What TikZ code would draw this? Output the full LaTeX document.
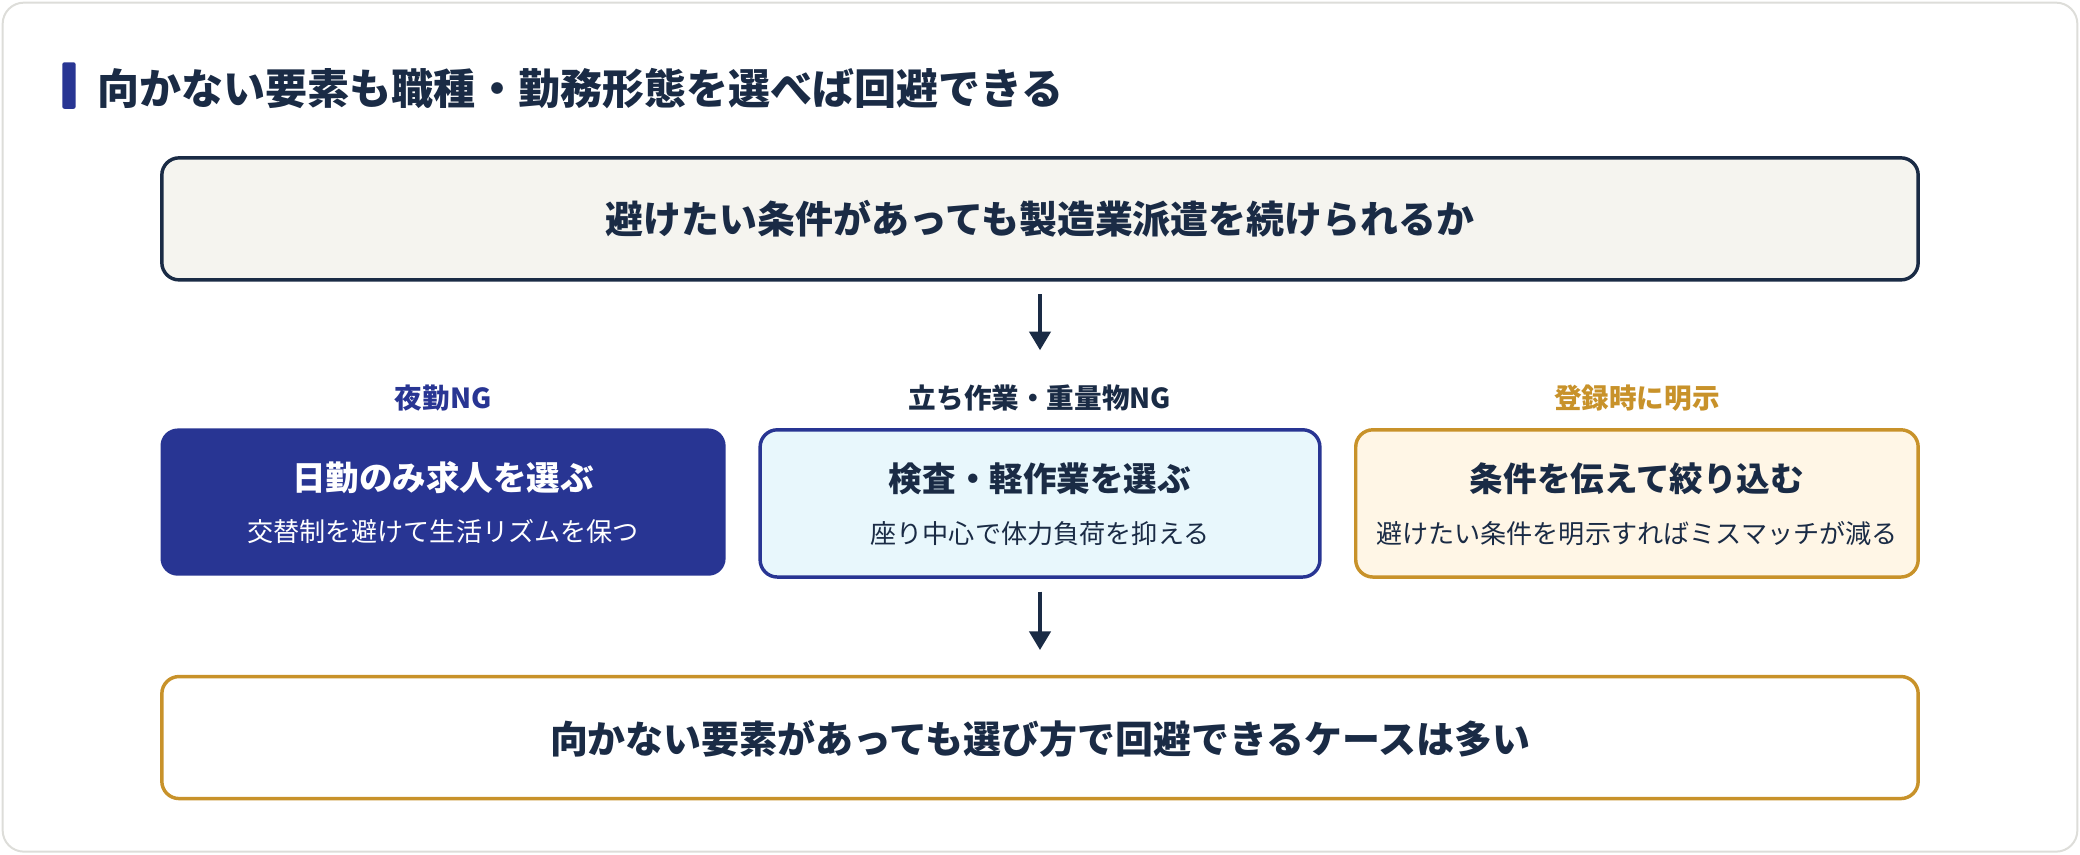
\documentclass[tikz,border=0pt]{standalone}
\usepackage{fontspec}
\setmainfont{Noto Sans CJK JP}
\usetikzlibrary{arrows.meta}
\definecolor{navy}{HTML}{283593}
\definecolor{dark}{HTML}{1A2B45}
\definecolor{gold}{HTML}{C8922A}
\definecolor{beige}{HTML}{F5F4EF}
\definecolor{lblue}{HTML}{E8F7FC}
\definecolor{lgold}{HTML}{FFF6E6}
\begin{document}
\begin{tikzpicture}[x=1pt,y=1pt,
 box/.style={draw, line width=2.6pt, rounded corners=13pt},
 arr/.style={-{Triangle[length=14pt,width=16pt]}, line width=2.6pt, draw=dark},
 big/.style={font=\fontsize{28.6}{32}\selectfont\bfseries, text=dark},
 ttl/.style={font=\fontsize{25.3}{29}\selectfont\bfseries},
 sub/.style={font=\fontsize{19.7}{23}\selectfont},
 lab/.style={font=\fontsize{20.8}{24}\selectfont\bfseries}]
\useasboundingbox (0,0) rectangle (1568,-644);
\draw[draw=beige!80!gray, line width=1.5pt, fill=white, rounded corners=16pt] (2,-2) rectangle (1566,-642);
\fill[navy, rounded corners=1.5pt] (47,-47) rectangle (57,-82);
\node[anchor=west, font=\fontsize{31.7}{36}\selectfont\bfseries, text=dark] (title) at (70,-67) {向かない要素も職種・勤務形態を選べば回避できる};
\draw[box, draw=dark, fill=beige] (122,-119) rectangle (1446,-211);
\node[big] (top) at (784,-165) {避けたい条件があっても製造業派遣を続けられるか};
\coordinate (a1) at (784,-222); \coordinate (a2) at (784,-264);
\draw[arr] (a1) -- (a2);
\node[lab, text=navy] (l1) at (334,-300) {夜勤NG};
\node[lab, text=dark] (l2) at (784,-300) {立ち作業・重量物NG};
\node[lab, text=gold] (l3) at (1234,-300) {登録時に明示};
\fill[navy, rounded corners=13pt] (121,-323) rectangle (547,-434);
\node[ttl, text=white] (b1) at (334,-360) {日勤のみ求人を選ぶ};
\node[sub, text=white] (s1) at (334,-401) {交替制を避けて生活リズムを保つ};
\draw[box, draw=navy, fill=lblue] (573,-324) rectangle (995,-435);
\node[ttl, text=dark] (b2) at (784,-361) {検査・軽作業を選ぶ};
\node[sub, text=dark] (s2) at (784,-402) {座り中心で体力負荷を抑える};
\draw[box, draw=gold, fill=lgold] (1022,-324) rectangle (1446,-435);
\node[ttl, text=dark] (b3) at (1234,-361) {条件を伝えて絞り込む};
\node[sub, text=dark] (s3) at (1234,-402) {避けたい条件を明示すればミスマッチが減る};
\coordinate (c1) at (784,-446); \coordinate (c2) at (784,-490);
\draw[arr] (c1) -- (c2);
\draw[box, draw=gold, fill=white] (122,-510) rectangle (1446,-602);
\node[big] (bot) at (784,-557) {向かない要素があっても選び方で回避できるケースは多い};
\end{tikzpicture}
\end{document}
